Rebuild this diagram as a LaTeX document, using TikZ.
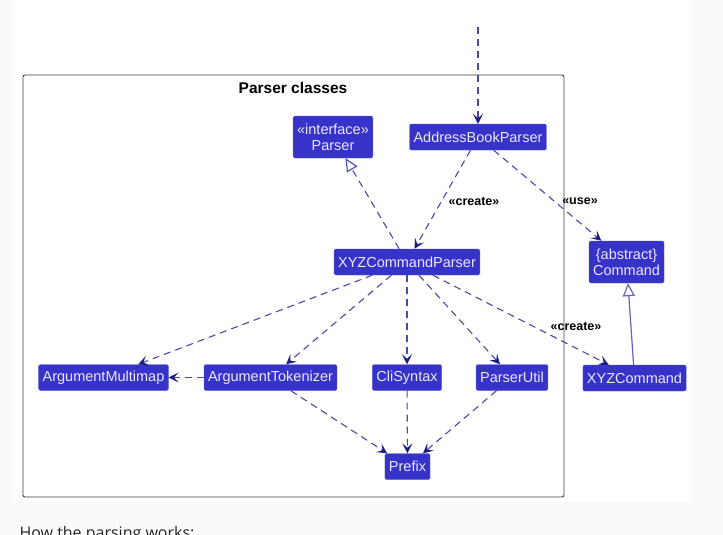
\documentclass[tikz,border=0pt]{standalone}
\usepackage{fontspec}
\setmainfont{Liberation Sans}
\newfontfamily\pagefont{Open Sans}
\usetikzlibrary{arrows.meta}
\definecolor{clsfill}{RGB}{55,51,200}
\definecolor{clstext}{RGB}{232,232,255}
\definecolor{clsline}{RGB}{88,88,220}
\definecolor{edgeblue}{RGB}{72,72,175}
\definecolor{tipblue}{RGB}{28,28,135}
\definecolor{genblue}{RGB}{100,100,195}
\definecolor{pagegray}{RGB}{250,250,250}
\definecolor{framegray}{RGB}{60,60,60}
\begin{document}
\begin{tikzpicture}[x=1pt, y=-1pt,
  >={Stealth[length=10pt, width=10pt, inset=4.5pt, color=tipblue]},
  cls/.style={draw=clsline, fill=clsfill, text=clstext, rounded corners=1.5pt, inner xsep=4pt, inner ysep=2pt, minimum height=26pt, align=center, font=\fontsize{14.5}{16}\selectfont},
  dep/.style={->, edgeblue, line width=1.1pt, dash pattern=on 7pt off 5pt},
  real/.style={edgeblue, line width=1.1pt, dash pattern=on 7pt off 5pt, -{Triangle[open, length=13pt, width=12pt, fill=white, color=edgeblue]}},
  gen/.style={genblue, line width=1.2pt, -{Triangle[open, length=13pt, width=12pt, fill=white, color=genblue]}},
  stereo/.style={font=\bfseries\fontsize{12.5}{14}\selectfont, text=black, inner sep=1pt}]
\useasboundingbox (0,0) rectangle (723,535);
\clip (0,0) rectangle (723,535);
\fill[pagegray] (0,0) rectangle (723,535);
\fill[white] (13,0) rectangle (691,502);
% package frame
\draw[framegray, rounded corners=2pt, line width=0.9pt] (23,75) rectangle (564,497);
\node[font=\bfseries\fontsize{15.5}{17}\selectfont] (title) at (293,88) {Parser classes};
% classes
\node[cls] (abp) at (478,137) {AddressBookParser};
\node[cls, minimum height=42pt] (parser) at (333,137) {«interface»\\Parser};
\node[cls] (xyzcp) at (407,262) {XYZCommandParser};
\node[cls, minimum height=42pt, minimum width=75pt] (cmd) at (626.5,262) {\{abstract\}\\Command};
\node[cls] (xyzc) at (634.5,378) {XYZCommand};
\node[cls] (amm) at (103.5,377.5) {ArgumentMultimap};
\node[cls] (atok) at (270.5,377.5) {ArgumentTokenizer};
\node[cls] (cli) at (407,377.5) {CliSyntax};
\node[cls] (pu) at (512,377.5) {ParserUtil};
\node[cls] (prefix) at (407.5,466.5) {Prefix};
% connectors
\coordinate (entry) at (478,27);
\draw[dep] (entry) -- (abp);
\draw[real] (xyzcp) -- (parser);
\draw[dep] (abp) -- (xyzcp);
\draw[dep] (abp) -- (cmd);
\draw[dep] (xyzcp) -- (amm);
\draw[dep] (xyzcp) -- (atok);
\draw[dep] (xyzcp) -- (cli);
\draw[dep] (xyzcp) -- (pu);
\draw[dep] (xyzcp) -- (xyzc);
\draw[dep] (atok) -- (amm);
\draw[gen] (xyzc) -- (cmd);
\draw[dep] (atok) -- (prefix);
\draw[dep] (cli) -- (prefix);
\draw[dep] (pu) -- (prefix);
% labels
\node[stereo] (lcreate) at (474,201) {«create»};
\node[stereo] (luse) at (580,201) {«use»};
\node[stereo] (lcreatecmd) at (576,326) {«create»};
\node[anchor=base west, font=\pagefont\fontsize{16}{19}\selectfont, text=black!85] (howto) at (16,538) {How the parsing works:};
\end{tikzpicture}
\end{document}
